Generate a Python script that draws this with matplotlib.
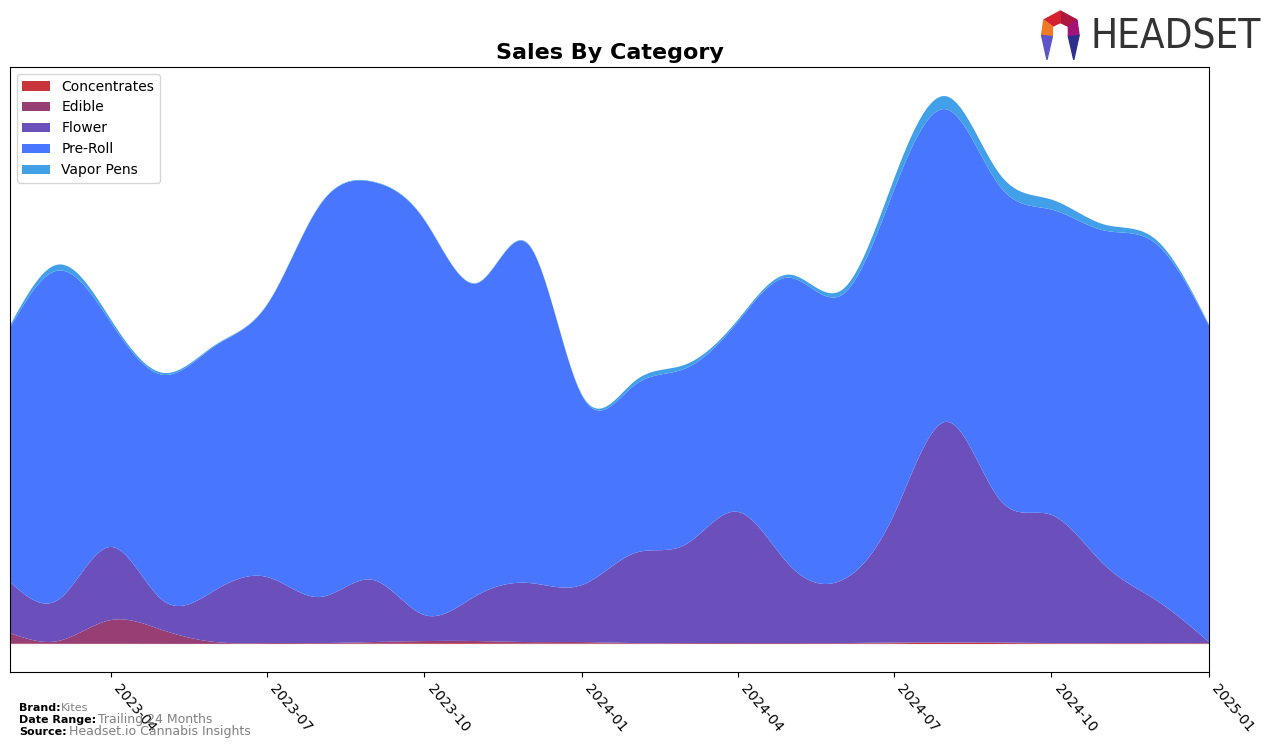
import numpy as np
import pandas as pd
import matplotlib
matplotlib.use("Agg")
import matplotlib.pyplot as plt
import matplotlib.dates as mdates
from matplotlib.patches import Polygon

# monthly sales by category (relative units)
months = pd.date_range("2023-02-01", "2025-01-01", freq="MS")
concentrates = [0.5, 0.3, 0.3, 0.2, 0.2, 0.2, 0.3, 0.5, 0.8, 0.8, 0.6, 0.6,
                0.4, 0.3, 0.2, 0.2, 0.3, 0.8, 1.2, 1.0, 0.6, 0.5, 0.5, 0.4]
edible = [10.5, 2.7, 23.7, 13.8, 1.8, 0.8, 0.7, 1.5, 2.2, 2.2, 1.4, 1.4,
          0.6, 0.7, 0.8, 0.8, 0.7, 0.7, 0.3, 0.5, 0.4, 0.5, 0.5, 0.6]
flower = [51, 41, 73, 30, 52, 66, 46, 62, 26, 46, 59, 57,
          90, 98, 131, 78, 63, 127.5, 220.5, 142.5, 128, 78, 43, 1]
preroll = [254, 329, 224, 225, 244, 271.5, 391.5, 397.5, 394.5, 311.5, 337.5, 189,
           168, 176, 190, 287, 285, 324, 312, 313, 305, 334, 356, 316]
vapor = [2, 6, 3, 2, 1, 0.5, 0.5, 0.5, 0.5, 0.5, 0.5, 1,
         4, 4, 2, 3, 5, 11, 13, 12, 10, 6, 4, 1]

labels = ["Concentrates", "Edible", "Flower", "Pre-Roll", "Vapor Pens"]
colors = ["#C8363B", "#973F74", "#6B4FBB", "#4876FF", "#42A0E8"]


def natural_spline(x, y, xs):
    # plain natural cubic spline
    x = np.asarray(x, float)
    y = np.asarray(y, float)
    n = len(x)
    h = np.diff(x)
    A = np.zeros((n, n))
    b = np.zeros(n)
    A[0, 0] = 1
    A[-1, -1] = 1
    for i in range(1, n - 1):
        A[i, i - 1] = h[i - 1]
        A[i, i] = 2 * (h[i - 1] + h[i])
        A[i, i + 1] = h[i]
        b[i] = 3 * ((y[i + 1] - y[i]) / h[i] - (y[i] - y[i - 1]) / h[i - 1])
    c = np.linalg.solve(A, b)
    bb = (y[1:] - y[:-1]) / h - h * (2 * c[:-1] + c[1:]) / 3
    d = (c[1:] - c[:-1]) / (3 * h)
    idx = np.clip(np.searchsorted(x, xs) - 1, 0, n - 2)
    t = xs - x[idx]
    return y[idx] + bb[idx] * t + c[idx] * t ** 2 + d[idx] * t ** 3


xnum = mdates.date2num(months)
xs = np.linspace(xnum[0], xnum[-1], 800)
series = [natural_spline(xnum, s, xs) for s in [concentrates, edible, flower, preroll, vapor]]

fig = plt.figure(figsize=(12.76, 7.48), dpi=100)
ax = fig.add_axes([0.0078, 0.1016, 0.9397, 0.8088])
ax.stackplot(xs, *series, labels=labels, colors=colors)

total = np.sum(series, axis=0)
top = total.max()
ax.set_ylim(-0.051 * top, 1.053 * top)
ax.set_xlim(xnum[0], xnum[-1])
ax.set_yticks([])

ticks = pd.date_range("2023-04-01", "2025-01-01", freq="3MS")
ax.set_xticks(mdates.date2num(ticks))
ax.set_xticklabels([t.strftime("%Y-%m") for t in ticks], rotation=-50, ha="left", fontsize=10)

ax.set_title("Sales By Category", fontsize=16, fontweight="bold")
ax.legend(loc="upper left", fontsize=10)

# footer
fig.text(0.015, 0.049, "Brand:", fontsize=8, fontweight="bold")
fig.text(0.048, 0.049, "Kites", fontsize=8, color="grey")
fig.text(0.015, 0.033, "Date Range:", fontsize=8, fontweight="bold")
fig.text(0.077, 0.033, "Trailing 24 Months", fontsize=9, color="grey")
fig.text(0.015, 0.017, "Source:", fontsize=8, fontweight="bold")
fig.text(0.054, 0.017, "Headset.io Cannabis Insights", fontsize=9, color="grey")

# logo
fig.text(0.855, 0.950, "HEADSET", fontsize=29, color="#333333", va="center", ha="left",
         fontfamily="DejaVu Sans", fontstretch="condensed")
logo = fig.add_axes([0.810, 0.915, 0.042, 0.072])
logo.set_xlim(-1, 1)
logo.set_ylim(-1.1, 1)
logo.axis("off")
logo.add_patch(Polygon([(0, 0.95), (0.62, 0.6), (0.3, 0.35), (0, 0.5)], color="#B0173C"))
logo.add_patch(Polygon([(0, 0.95), (-0.62, 0.6), (-0.3, 0.35), (0, 0.5)], color="#D4202F"))
logo.add_patch(Polygon([(0.62, 0.6), (0.7, 0.0), (0.3, -0.05), (0.3, 0.35)], color="#A3137A"))
logo.add_patch(Polygon([(-0.62, 0.6), (-0.7, 0.0), (-0.3, -0.05), (-0.3, 0.35)], color="#F07A24"))
logo.add_patch(Polygon([(0.7, 0.0), (0.5, -0.95), (0.3, -0.05)], color="#2E2F8C"))
logo.add_patch(Polygon([(-0.7, 0.0), (-0.5, -0.95), (-0.3, -0.05)], color="#5B55C9"))

fig.savefig("out.png", dpi=100)
